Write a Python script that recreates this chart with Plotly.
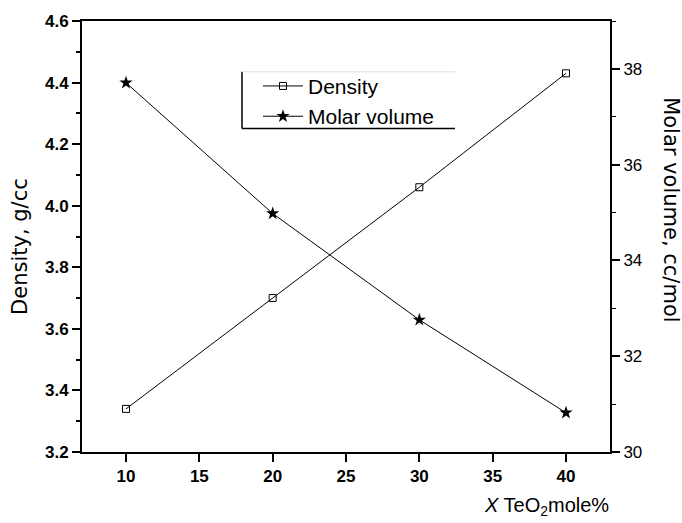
import plotly.graph_objects as go

x_mole = [10, 20, 30, 40]
density = [3.34, 3.70, 4.06, 4.43]
molar_volume = [37.71, 34.98, 32.76, 30.82]

W, H = 682, 523
L, R, T, B = 82, 72, 19, 71
pw, ph = W - L - R, H - T - B

def px(xp):
    return (xp - L) / pw

def py(yp):
    return (H - B - yp) / ph

fig = go.Figure()
fig.add_trace(go.Scatter(
    x=x_mole, y=density, name="Density", mode="lines+markers",
    line=dict(color="black", width=1),
    marker=dict(symbol="square-open", size=7, color="black", line=dict(width=1)),
))
fig.add_trace(go.Scatter(
    x=x_mole, y=molar_volume, name="Molar volume", mode="lines+markers", yaxis="y2",
    line=dict(color="black", width=1),
    marker=dict(symbol="star", size=10, color="black"),
))

FAM = "Liberation Sans, Arial"
tickfont_b = dict(family=FAM, size=17, color="black", weight="bold")
tickfont_n = dict(family=FAM, size=17, color="black")

fig.update_layout(
    width=W, height=H,
    margin=dict(l=L, r=R, t=T, b=B),
    paper_bgcolor="white", plot_bgcolor="white",
    showlegend=True,
    legend=dict(
        x=px(258), y=py(64), xanchor="left", yanchor="top",
        bgcolor="rgba(0,0,0,0)", borderwidth=0,
        font=dict(family=FAM, size=21, color="black"),
        itemwidth=40, tracegroupgap=0,
    ),
    xaxis=dict(
        range=[7, 43], dtick=5, tick0=0,
        showline=True, linecolor="black", linewidth=2, mirror=True,
        ticks="outside", ticklen=8, tickwidth=2, tickcolor="black",
        showgrid=False, zeroline=False, tickfont=tickfont_b,
    ),
    yaxis=dict(
        range=[3.2, 4.6], dtick=0.2, tick0=3.2, tickformat=".1f",
        showline=True, linecolor="black", linewidth=2,
        ticks="outside", ticklen=8, tickwidth=2, tickcolor="black",
        minor=dict(dtick=0.1, ticks="outside", ticklen=4, tickwidth=1.5, tickcolor="black"),
        showgrid=False, zeroline=False, tickfont=tickfont_b,
    ),
    yaxis2=dict(
        range=[30, 39], dtick=2, tick0=30, overlaying="y", side="right",
        showline=True, linecolor="black", linewidth=2,
        ticks="outside", ticklen=8, tickwidth=2, tickcolor="black",
        minor=dict(dtick=1, ticks="outside", ticklen=4, tickwidth=1, tickcolor="black"),
        showgrid=False, zeroline=False, tickfont=tickfont_n,
    ),
    annotations=[
        dict(text="Density, g/cc", textangle=-90, xref="paper", yref="paper",
             x=px(20), y=py(246), xanchor="center", yanchor="middle", showarrow=False,
             font=dict(family="DejaVu Sans", size=21, color="black")),
        dict(text="Molar volume, cc/mol", textangle=90, xref="paper", yref="paper",
             x=px(671), y=py(208), xanchor="center", yanchor="middle", showarrow=False,
             font=dict(family="DejaVu Sans", size=21, color="black")),
        dict(text="<i>X</i> TeO<sub>2</sub>mole%", xref="paper", yref="paper",
             x=px(546), y=py(507), xanchor="center", yanchor="middle", showarrow=False,
             font=dict(family=FAM, size=20, color="black")),
    ],
    shapes=[
        dict(type="line", xref="paper", yref="paper", x0=px(242), x1=px(242), y0=py(70), y1=py(127),
             line=dict(color="black", width=1.5)),
        dict(type="line", xref="paper", yref="paper", x0=px(242), x1=px(455), y0=py(127), y1=py(127),
             line=dict(color="black", width=1.5)),
        dict(type="line", xref="paper", yref="paper", x0=px(242), x1=px(455), y0=py(70), y1=py(70),
             line=dict(color="#e0e0e0", width=1)),
    ],
)

fig.write_html("out.html")
